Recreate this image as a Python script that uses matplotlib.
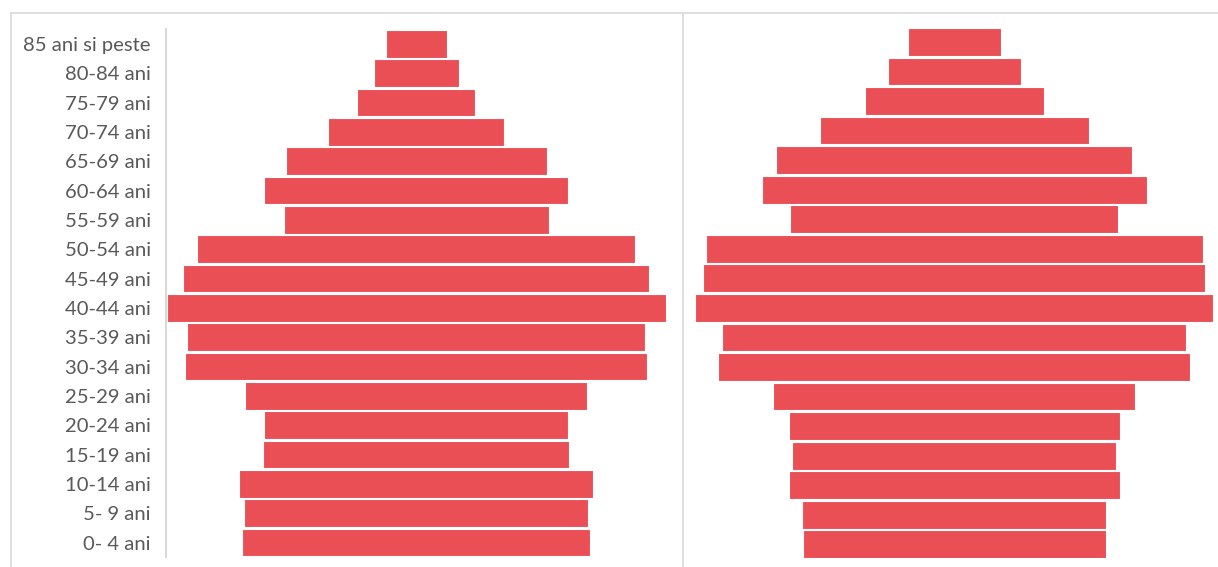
import matplotlib
matplotlib.use("Agg")
import matplotlib.pyplot as plt
from matplotlib.lines import Line2D

# ── Data (bar widths, same unit in both panels) ──────────────────────────────
age_groups = ["85 ani si peste", "80-84 ani", "75-79 ani", "70-74 ani", "65-69 ani",
              "60-64 ani", "55-59 ani", "50-54 ani", "45-49 ani", "40-44 ani",
              "35-39 ani", "30-34 ani", "25-29 ani", "20-24 ani", "15-19 ani",
              "10-14 ani", "5- 9 ani", "0- 4 ani"]

left_values = [61, 85, 118, 176, 261, 304, 265, 438, 466, 499,
               458, 462, 342, 304, 306, 354, 344, 348]

right_values = [93, 133, 179, 269, 356, 385, 328, 497, 502, 518,
                464, 472, 362, 331, 324, 331, 304, 303]

BAR = "#EA4F56"
FRAME = "#D9D9D9"
LABEL = "#595959"

W, H = 1218, 567
fig = plt.figure(figsize=(W / 100, H / 100), dpi=100)
fig.patch.set_facecolor("white")


def _ax(x0, x1, y_top, y_bot):
    # pixel box -> figure fraction
    return fig.add_axes([x0 / W, 1 - y_bot / H, (x1 - x0) / W, (y_bot - y_top) / H])


def _centered(ax, values, half):
    ys = range(len(values))
    lefts = [-v / 2 for v in values]
    ax.barh(ys, values, left=lefts, height=0.94, color=BAR,
            edgecolor="white", linewidth=0.8)
    ax.set_xlim(-half, half)
    ax.set_ylim(len(values) - 0.5, -0.5)
    for s in ax.spines.values():
        s.set_visible(False)
    ax.set_xticks([])
    ax.patch.set_alpha(0)


# ── Left panel ───────────────────────────────────────────────────────────────
axl = _ax(166.2, 666.2, 29.2, 557.2)
_centered(axl, left_values, 250)
axl.set_yticks(range(len(age_groups)))
axl.set_yticklabels(age_groups, fontsize=14.6, family=["Lato", "DejaVu Sans"])
axl.tick_params(axis="y", length=0, pad=11, labelcolor=LABEL)
axl.spines["left"].set_visible(True)
axl.spines["left"].set_color(FRAME)
axl.spines["left"].set_linewidth(1.5)

# ── Right panel ──────────────────────────────────────────────────────────────
axr = _ax(694.0, 1214.4, 27.1, 559.1)
_centered(axr, right_values, 260.2)
axr.set_yticks([])

# ── Chart-area frames ────────────────────────────────────────────────────────
def _fline(xs, ys):
    fig.add_artist(Line2D([x / W for x in xs], [1 - y / H for y in ys],
                          color=FRAME, linewidth=1.2, transform=fig.transFigure))

_fline([10.5, W], [12.5, 12.5])
_fline([10.5, 10.5], [12.5, H])
_fline([682.5, 682.5], [12.5, H])

fig.savefig("out.png", dpi=100, facecolor="white")
